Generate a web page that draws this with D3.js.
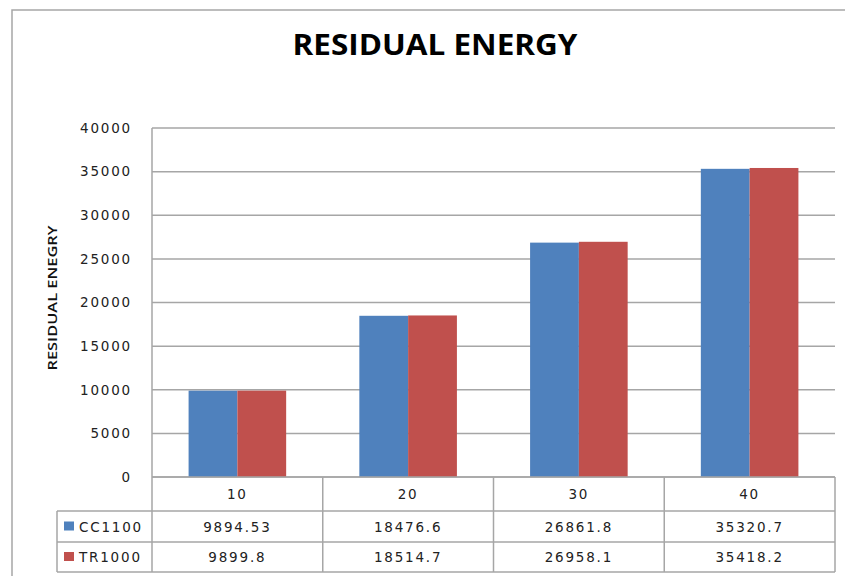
<!DOCTYPE html>
<html>
<head>
<meta charset="utf-8">
<script src="https://cdn.jsdelivr.net/npm/d3@7"></script>
<style>
  body { margin: 0; background: #fff; }
  svg { display: block; }
</style>
</head>
<body>
<div id="chart"></div>
<script>
// chart data
const categories = ['10', '20', '30', '40'];
const seriesNames = ['CC1100', 'TR1000'];
const cc1100 = [9894.53, 18476.6, 26861.8, 35320.7];
const tr1000 = [9899.8, 18514.7, 26958.1, 35418.2];
const yTicks = [0, 5000, 10000, 15000, 20000, 25000, 30000, 35000, 40000];

const seriesValues = [cc1100, tr1000];
const colors = ['#4f81bd', '#c0504d'];
const gridColor = '#a6a6a6';

const width = 845;
const height = 576;
const plot = { left: 152, right: 835, top: 128, bottom: 477 };
const tableRows = [477, 511, 542, 572];
const tableLeft = 57;

const svg = d3.select('#chart').append('svg')
  .attr('width', width)
  .attr('height', height);

// outer chart frame (cropped at right and bottom)
svg.append('rect')
  .attr('x', 12).attr('y', 10)
  .attr('width', 860).attr('height', 600)
  .attr('fill', 'none')
  .attr('stroke', gridColor)
  .attr('stroke-width', 1.5);

// title
svg.append('text')
  .attr('x', 435).attr('y', 55)
  .attr('text-anchor', 'middle')
  .attr('font-family', 'Open Sans')
  .attr('font-weight', 700)
  .attr('font-size', 28)
  .attr('textLength', 285)
  .attr('lengthAdjust', 'spacingAndGlyphs')
  .attr('fill', '#000')
  .text('RESIDUAL ENERGY');

// scales
const x0 = d3.scaleBand()
  .domain(categories)
  .range([plot.left, plot.right])
  .padding(0);

const x1 = d3.scaleBand()
  .domain(seriesNames)
  .range([0, x0.bandwidth()])
  .paddingInner(0)
  .paddingOuter(0.75);

const y = d3.scaleLinear()
  .domain([0, 40000])
  .range([plot.bottom, plot.top]);

// gridlines
svg.append('g')
  .selectAll('line')
  .data(yTicks)
  .join('line')
  .attr('x1', plot.left).attr('x2', plot.right)
  .attr('y1', d => y(d)).attr('y2', d => y(d))
  .attr('stroke', gridColor)
  .attr('stroke-width', 1.5);

// y axis
const yAxis = svg.append('g')
  .attr('transform', `translate(${plot.left},0)`)
  .call(d3.axisLeft(y).tickValues(yTicks).tickSize(0).tickPadding(20).tickFormat(d3.format('d')));
yAxis.select('.domain').remove();
yAxis.selectAll('text')
  .attr('font-family', 'DejaVu Sans')
  .attr('font-size', 13.5)
  .attr('letter-spacing', '1.8px')
  .attr('fill', '#222');

// y axis label
svg.append('text')
  .attr('transform', 'translate(57,298) rotate(-90)')
  .attr('text-anchor', 'middle')
  .attr('font-family', 'Open Sans')
  .attr('font-weight', 600)
  .attr('font-size', 13)
  .attr('textLength', 145)
  .attr('lengthAdjust', 'spacingAndGlyphs')
  .attr('fill', '#111')
  .text('RESIDUAL ENEGRY');

// bars
const groups = svg.append('g')
  .selectAll('g')
  .data(categories)
  .join('g')
  .attr('transform', d => `translate(${x0(d)},0)`);

groups.selectAll('rect')
  .data((d, i) => seriesNames.map((s, j) => ({ s, v: seriesValues[j][i], c: colors[j] })))
  .join('rect')
  .attr('x', d => x1(d.s))
  .attr('width', x1.bandwidth())
  .attr('y', d => y(d.v))
  .attr('height', d => y(0) - y(d.v))
  .attr('fill', d => d.c);

// data table lines
const table = svg.append('g')
  .attr('stroke', gridColor)
  .attr('stroke-width', 1.5);

table.append('line')
  .attr('x1', plot.left).attr('x2', plot.left)
  .attr('y1', plot.top).attr('y2', tableRows[3]);

tableRows.forEach((ry, i) => {
  table.append('line')
    .attr('x1', i === 0 ? plot.left : tableLeft).attr('x2', plot.right)
    .attr('y1', ry).attr('y2', ry);
});

table.append('line')
  .attr('x1', tableLeft).attr('x2', tableLeft)
  .attr('y1', tableRows[1]).attr('y2', tableRows[3]);

categories.forEach(c => {
  table.append('line')
    .attr('x1', x0(c) + x0.bandwidth()).attr('x2', x0(c) + x0.bandwidth())
    .attr('y1', tableRows[0]).attr('y2', tableRows[3]);
});

const cellText = (sel) => sel
  .attr('font-family', 'DejaVu Sans')
  .attr('font-size', 13.5)
  .attr('letter-spacing', '1.8px')
  .attr('fill', '#222')
  .attr('dominant-baseline', 'central');

// category row
svg.append('g')
  .selectAll('text')
  .data(categories)
  .join('text')
  .attr('x', d => x0(d) + x0.bandwidth() / 2)
  .attr('y', (tableRows[0] + tableRows[1]) / 2)
  .attr('text-anchor', 'middle')
  .call(cellText)
  .text(d => d);

// series rows
seriesNames.forEach((name, j) => {
  const rowMid = (tableRows[j + 1] + tableRows[j + 2]) / 2;
  const row = svg.append('g');

  row.append('rect')
    .attr('x', 64).attr('y', rowMid - 5)
    .attr('width', 10).attr('height', 9)
    .attr('fill', colors[j]);

  row.append('text')
    .attr('x', 79).attr('y', rowMid)
    .call(cellText)
    .text(name);

  row.selectAll('text.val')
    .data(seriesValues[j])
    .join('text')
    .attr('class', 'val')
    .attr('x', (d, i) => x0(categories[i]) + x0.bandwidth() / 2)
    .attr('y', rowMid)
    .attr('text-anchor', 'middle')
    .call(cellText)
    .text(d => String(d));
});
</script>
</body>
</html>
